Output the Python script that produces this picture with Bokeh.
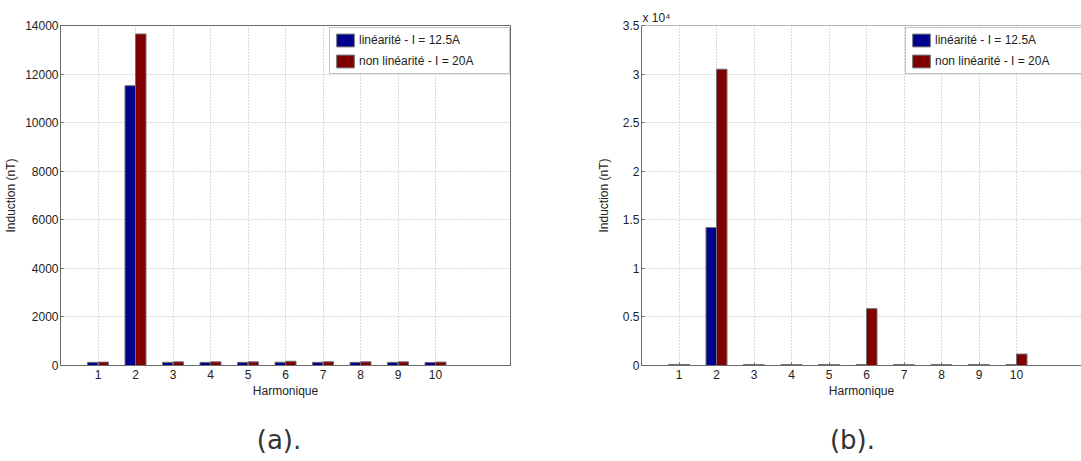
from bokeh.plotting import figure
from bokeh.models import FixedTicker, Legend, LegendItem, Title, Span, Div, Spacer, ColumnDataSource, Range1d
from bokeh.layouts import row, column
from bokeh.transform import dodge
from bokeh.embed import file_html
from bokeh.resources import INLINE

# ---- data ----
harmonics = [1, 2, 3, 4, 5, 6, 7, 8, 9, 10]
tick_labels = [str(h) for h in harmonics]
lin_a = [130, 11520, 130, 130, 130, 135, 130, 130, 130, 125]
nonlin_a = [140, 13650, 150, 150, 150, 175, 155, 150, 150, 140]
lin_b = [110, 14200, 100, 100, 100, 100, 100, 100, 100, 100]
nonlin_b = [100, 30500, 90, 90, 90, 5850, 90, 90, 90, 1180]
series_names = ["linéarité - I = 12.5A", "non linéarité - I = 20A"]
yticks_a = [0, 2000, 4000, 6000, 8000, 10000, 12000, 14000]
yticks_b = [0, 5000, 10000, 15000, 20000, 25000, 30000, 35000]
ytick_labels_b = ["0", "0.5", "1", "1.5", "2", "2.5", "3", "3.5"]
captions = ["(a).", "(b)."]

BLUE = "#00008F"
RED = "#800000"
AX = "#6a6a6a"
FONT = "Liberation Sans"


def make_fig(lin, nonlin, width, border_left, border_right, x_end, y_end, yticks, ylabels,
             label_standoff, full_box, legend_x):
    src = ColumnDataSource(dict(x=harmonics, lin=lin, nonlin=nonlin))
    p = figure(width=width, height=420, output_backend="svg", toolbar_location=None,
               x_range=Range1d(0, x_end), y_range=Range1d(0, y_end),
               min_border_left=border_left, min_border_right=border_right,
               min_border_top=25, min_border_bottom=55)
    p.background_fill_color = "white"
    p.border_fill_color = "white"
    p.outline_line_color = AX if full_box else None
    r1 = p.vbar(x=dodge("x", -0.14, range=p.x_range), top="lin", width=0.28, source=src,
                fill_color=BLUE, line_color="#707070", line_width=1)
    r2 = p.vbar(x=dodge("x", 0.14, range=p.x_range), top="nonlin", width=0.28, source=src,
                fill_color=RED, line_color="#707070", line_width=1)
    for ax in (p.xaxis[0], p.yaxis[0]):
        ax.axis_line_color = AX
        ax.major_tick_line_color = AX
        ax.major_tick_in = 3
        ax.major_tick_out = 0
        ax.minor_tick_line_color = None
        ax.major_label_text_font = FONT
        ax.major_label_text_font_size = "12px"
        ax.major_label_text_color = "#222222"
        ax.axis_label_text_font = FONT
        ax.axis_label_text_font_size = "12px"
        ax.axis_label_text_font_style = "normal"
        ax.axis_label_text_color = "#222222"
    p.xaxis.ticker = FixedTicker(ticks=harmonics)
    p.xaxis.major_label_overrides = {h: t for h, t in zip(harmonics, tick_labels)}
    p.xaxis.axis_label = "Harmonique"
    p.xaxis.major_label_standoff = 4
    p.xaxis.axis_label_standoff = 2
    p.yaxis.ticker = FixedTicker(ticks=yticks)
    if ylabels is not None:
        p.yaxis.major_label_overrides = {t: l for t, l in zip(yticks, ylabels)}
    p.yaxis.axis_label = "Induction (nT)"
    p.yaxis.major_label_standoff = 2
    p.yaxis.axis_label_standoff = label_standoff
    for g in (p.xgrid[0], p.ygrid[0]):
        g.grid_line_color = "#b5b5b5"
        g.grid_line_dash = "1 2"
        g.grid_line_width = 1
    p.xgrid.ticker = FixedTicker(ticks=harmonics)
    p.ygrid.ticker = FixedTicker(ticks=yticks)
    legend = Legend(items=[LegendItem(label=series_names[0], renderers=[r1]),
                           LegendItem(label=series_names[1], renderers=[r2])],
                    location=(legend_x, 291),
                    glyph_width=22, glyph_height=16, label_standoff=3, label_width=146,
                    padding=4, spacing=5, margin=0,
                    border_line_color="#8c8c8c", border_line_width=1,
                    background_fill_color="white", background_fill_alpha=1,
                    label_text_font=FONT, label_text_font_size="12px", label_text_color="#222222",
                    label_height=16)
    p.add_layout(legend)
    return p


pa = make_fig(lin_a, nonlin_a, 568, 60, 58, 12, 14000, yticks_a, None, 4, True, 269)
pb = make_fig(lin_b, nonlin_b, 513, 73, 0, 440 / 37.5, 35000, yticks_b, ytick_labels_b, 9, False, 264)
pb.add_layout(Span(location=35000, dimension="width", line_color=AX, line_width=1))
pb.add_layout(Title(text="x 10⁴", align="left", offset=1, standoff=1,
                    text_font=FONT, text_font_size="12px", text_font_style="normal",
                    text_color="#222222"), "above")

style = "font-family:'DejaVu Sans';font-size:26px;color:#333333;line-height:30px;text-align:center;"
da = Div(text=f'<div style="{style}width:548px;">{captions[0]}</div>', width=548, height=40)
gap = Spacer(width=46, height=40)
db = Div(text=f'<div style="{style}width:487px;">{captions[1]}</div>', width=487, height=40)

layout = column(row(pa, pb, spacing=0), row(da, gap, db, spacing=0), spacing=0)
open("out.html", "w").write(file_html(layout, INLINE))
